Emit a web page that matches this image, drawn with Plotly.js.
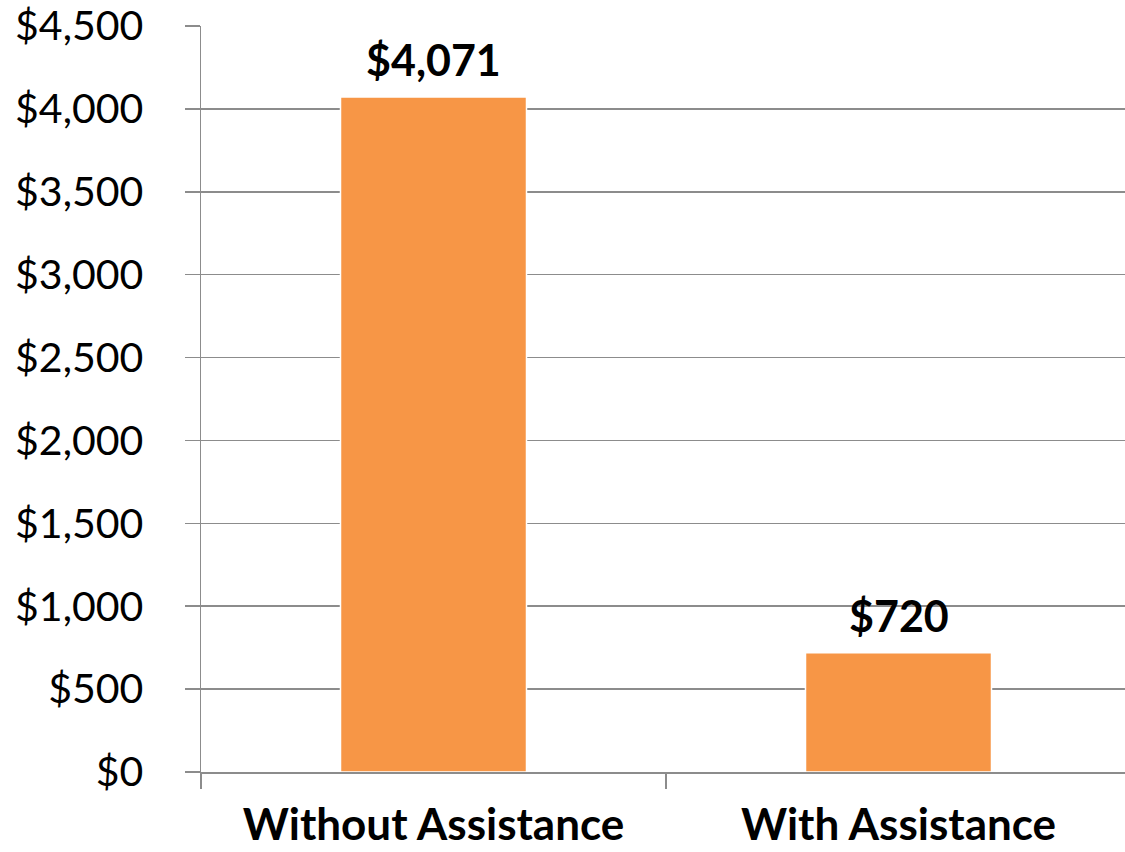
<!DOCTYPE html>
<html>
<head>
<meta charset="utf-8">
<script src="https://cdn.plot.ly/plotly-3.0.1.min.js"></script>
<style>html,body{margin:0;padding:0;background:#fff;overflow:hidden;width:1125px;height:852px;}</style>
</head>
<body>
<div id="chart" style="width:1125px;height:852px;"></div>
<script>
const categories = ["Without Assistance", "With Assistance"];
const values = [4071, 720];
const labels = ["$4,071", "$720"];
const yTickVals = [0, 500, 1000, 1500, 2000, 2500, 3000, 3500, 4000, 4500];
const yTickText = ["$0", "$500", "$1,000", "$1,500", "$2,000", "$2,500", "$3,000", "$3,500", "$4,000", "$4,500"];

const FONT = "Lato, 'Open Sans', sans-serif";
const grid = "#8c8c8c";

const trace = {
  type: "bar",
  x: categories,
  y: values,
  width: 0.4,
  marker: { color: "#F79646", line: { color: "#ffffff", width: 1.5 } },
  hoverinfo: "skip"
};

const annotations = categories.map((c, i) => ({
  x: c, y: values[i], xref: "x", yref: "y",
  text: "<b>" + labels[i] + "</b>",
  showarrow: false, yanchor: "bottom", yshift: 10,
  font: { family: FONT, size: 43, color: "#000" }
}));

const layout = {
  width: 1125, height: 852,
  margin: { l: 201, r: 0, t: 26, b: 80, autoexpand: false },
  paper_bgcolor: "#fff", plot_bgcolor: "#fff",
  showlegend: false,
  font: { family: FONT, color: "#000" },
  xaxis: {
    type: "category",
    range: [-0.5, -0.5 + 924 / 465],
    tickson: "boundaries",
    ticks: "outside", ticklen: 15, tickcolor: grid, tickwidth: 1.5,
    showline: true, linecolor: grid, linewidth: 1.5,
    showgrid: false, zeroline: false, automargin: false,
    tickfont: { family: FONT, size: 44, color: "#000", weight: "bold" },
    ticklabelstandoff: 14
  },
  yaxis: {
    range: [0, 4500],
    tickvals: yTickVals, ticktext: yTickText,
    ticks: "outside", ticklen: 15, tickcolor: grid, tickwidth: 1.5,
    showline: true, linecolor: grid, linewidth: 1.5,
    showgrid: true, gridcolor: grid, gridwidth: 1.5,
    zeroline: false, automargin: false,
    tickfont: { family: FONT, size: 41, color: "#000" },
    ticklabelstandoff: 33
  },
  annotations: annotations
};

Plotly.newPlot("chart", [trace], layout, { displayModeBar: false, staticPlot: true });
</script>
</body>
</html>
